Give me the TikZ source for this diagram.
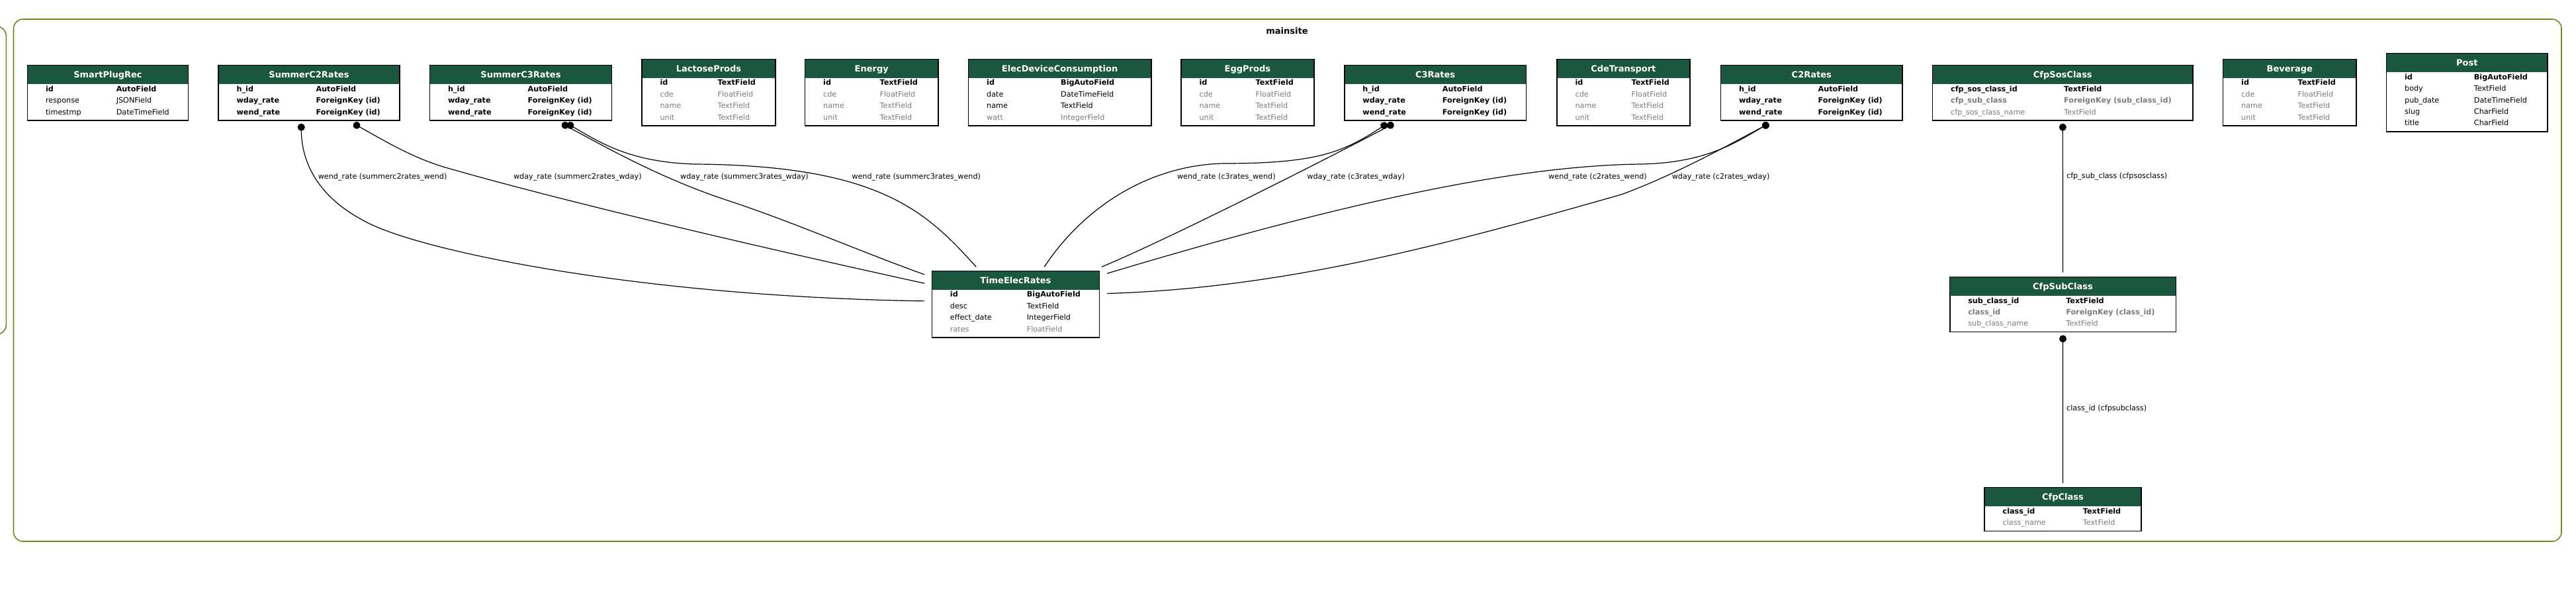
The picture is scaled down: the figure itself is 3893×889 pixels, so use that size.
\documentclass[tikz,border=0pt]{standalone}
\usepackage{fontspec}
\setmainfont{DejaVu Sans}
\usetikzlibrary{arrows.meta,calc,fit}
\definecolor{hdrgreen}{HTML}{1B563F}
\definecolor{fgray}{HTML}{7B7B7B}
\definecolor{olivedrab}{HTML}{698B22}

\begin{document}
\begin{tikzpicture}[x=0.5pt,y=0.5pt,yscale=-1,xscale=1,
  cluster/.style={draw=olivedrab, line width=0.8pt, rounded corners=7pt},
  tbl/.style={draw=black, fill=white, line width=0.8pt, inner sep=0pt},
  hdr/.style={fill=hdrgreen},
  ttl/.style={anchor=base, text=white, inner sep=0pt, font=\fontsize{6.5}{7.8}\selectfont\bfseries},
  fld/.style={anchor=north west, align=left, inner sep=0pt, font=\fontsize{5.6}{8.7}\selectfont},
  lbl/.style={anchor=west, inner sep=0pt, font=\fontsize{5.6}{6.7}\selectfont},
  fk/.style={line width=0.6pt, {Circle[length=5.5pt,width=5.5pt]}-},
]
\useasboundingbox (0,0) rectangle (3893,889);
\clip (0,0) rectangle (3893,889);

%Rounded Rect [cluster mainsite]
\draw [cluster] (20.5,29) rectangle (3871,818);
%Rounded Rect [cluster, cut off]
\draw [cluster] (-60,40) rectangle (9.3,505);
% Text Node
\node [inner sep=0pt, font=\fontsize{6.5}{7.8}\selectfont\bfseries] (mainsite) at (1945,46.7) {mainsite};

%Table SmartPlugRec
\node [tbl, fit={(41.5,98.7) (284.4,181.9)}] (smartplugrec) {};
\fill [hdr] ($(smartplugrec.north west)+(1.5,1.5)$) rectangle ($(smartplugrec.north east)+(-1.5,29.5)$);
\node [ttl] (smartplugrec-t) at ($(smartplugrec.north)+(0,19.8)$) {SmartPlugRec};
\node [fld] (smartplugrec-n) at ($(smartplugrec.north west)+(28,31.5)$) {\textbf{id}\\response\\timestmp};
\node [fld] (smartplugrec-f) at ($(smartplugrec.north west)+(134.7,31.5)$) {\textbf{AutoField}\\JSONField\\DateTimeField};

%Table SummerC2Rates
\node [tbl, fit={(330,98.7) (604,181.9)}] (summerc2rates) {};
\fill [hdr] ($(summerc2rates.north west)+(1.5,1.5)$) rectangle ($(summerc2rates.north east)+(-1.5,29.5)$);
\node [ttl] (summerc2rates-t) at ($(summerc2rates.north)+(0,19.8)$) {SummerC2Rates};
\node [fld] (summerc2rates-n) at ($(summerc2rates.north west)+(28,31.5)$) {\textbf{h\_id}\\\textbf{wday\_rate}\\\textbf{wend\_rate}};
\node [fld] (summerc2rates-f) at ($(summerc2rates.north west)+(148,31.5)$) {\textbf{AutoField}\\\textbf{ForeignKey (id)}\\\textbf{ForeignKey (id)}};

%Table SummerC3Rates
\node [tbl, fit={(649.5,98.7) (924.4,181.9)}] (summerc3rates) {};
\fill [hdr] ($(summerc3rates.north west)+(1.5,1.5)$) rectangle ($(summerc3rates.north east)+(-1.5,29.5)$);
\node [ttl] (summerc3rates-t) at ($(summerc3rates.north)+(0,19.8)$) {SummerC3Rates};
\node [fld] (summerc3rates-n) at ($(summerc3rates.north west)+(28,31.5)$) {\textbf{h\_id}\\\textbf{wday\_rate}\\\textbf{wend\_rate}};
\node [fld] (summerc3rates-f) at ($(summerc3rates.north west)+(148.5,31.5)$) {\textbf{AutoField}\\\textbf{ForeignKey (id)}\\\textbf{ForeignKey (id)}};

%Table LactoseProds
\node [tbl, fit={(970,89.3) (1172,189.9)}] (lactoseprods) {};
\fill [hdr] ($(lactoseprods.north west)+(1.5,1.5)$) rectangle ($(lactoseprods.north east)+(-1.5,29.5)$);
\node [ttl] (lactoseprods-t) at ($(lactoseprods.north)+(0,19.8)$) {LactoseProds};
\node [fld] (lactoseprods-n) at ($(lactoseprods.north west)+(28,31.5)$) {\textbf{id}\\\textcolor{fgray}{cde}\\\textcolor{fgray}{name}\\\textcolor{fgray}{unit}};
\node [fld] (lactoseprods-f) at ($(lactoseprods.north west)+(115,31.5)$) {\textbf{TextField}\\\textcolor{fgray}{FloatField}\\\textcolor{fgray}{TextField}\\\textcolor{fgray}{TextField}};

%Table Energy
\node [tbl, fit={(1216.6,89.3) (1418,189.9)}] (energy) {};
\fill [hdr] ($(energy.north west)+(1.5,1.5)$) rectangle ($(energy.north east)+(-1.5,29.5)$);
\node [ttl] (energy-t) at ($(energy.north)+(0,19.8)$) {Energy};
\node [fld] (energy-n) at ($(energy.north west)+(28,31.5)$) {\textbf{id}\\\textcolor{fgray}{cde}\\\textcolor{fgray}{name}\\\textcolor{fgray}{unit}};
\node [fld] (energy-f) at ($(energy.north west)+(113.4,31.5)$) {\textbf{TextField}\\\textcolor{fgray}{FloatField}\\\textcolor{fgray}{TextField}\\\textcolor{fgray}{TextField}};

%Table ElecDeviceConsumption
\node [tbl, fit={(1463.6,89.3) (1739.7,189.9)}] (elecdeviceconsumption) {};
\fill [hdr] ($(elecdeviceconsumption.north west)+(1.5,1.5)$) rectangle ($(elecdeviceconsumption.north east)+(-1.5,29.5)$);
\node [ttl] (elecdeviceconsumption-t) at ($(elecdeviceconsumption.north)+(0,19.8)$) {ElecDeviceConsumption};
\node [fld] (elecdeviceconsumption-n) at ($(elecdeviceconsumption.north west)+(28,31.5)$) {\textbf{id}\\date\\name\\\textcolor{fgray}{watt}};
\node [fld] (elecdeviceconsumption-f) at ($(elecdeviceconsumption.north west)+(140,31.5)$) {\textbf{BigAutoField}\\DateTimeField\\TextField\\\textcolor{fgray}{IntegerField}};

%Table EggProds
\node [tbl, fit={(1785,89.3) (1985.8,189.9)}] (eggprods) {};
\fill [hdr] ($(eggprods.north west)+(1.5,1.5)$) rectangle ($(eggprods.north east)+(-1.5,29.5)$);
\node [ttl] (eggprods-t) at ($(eggprods.north)+(0,19.8)$) {EggProds};
\node [fld] (eggprods-n) at ($(eggprods.north west)+(28,31.5)$) {\textbf{id}\\\textcolor{fgray}{cde}\\\textcolor{fgray}{name}\\\textcolor{fgray}{unit}};
\node [fld] (eggprods-f) at ($(eggprods.north west)+(113,31.5)$) {\textbf{TextField}\\\textcolor{fgray}{FloatField}\\\textcolor{fgray}{TextField}\\\textcolor{fgray}{TextField}};

%Table C3Rates
\node [tbl, fit={(2031.8,98.7) (2306.3,181.9)}] (c3rates) {};
\fill [hdr] ($(c3rates.north west)+(1.5,1.5)$) rectangle ($(c3rates.north east)+(-1.5,29.5)$);
\node [ttl] (c3rates-t) at ($(c3rates.north)+(0,19.8)$) {C3Rates};
\node [fld] (c3rates-n) at ($(c3rates.north west)+(28,31.5)$) {\textbf{h\_id}\\\textbf{wday\_rate}\\\textbf{wend\_rate}};
\node [fld] (c3rates-f) at ($(c3rates.north west)+(148.5,31.5)$) {\textbf{AutoField}\\\textbf{ForeignKey (id)}\\\textbf{ForeignKey (id)}};

%Table CdeTransport
\node [tbl, fit={(2353,89.3) (2553.7,189.9)}] (cdetransport) {};
\fill [hdr] ($(cdetransport.north west)+(1.5,1.5)$) rectangle ($(cdetransport.north east)+(-1.5,29.5)$);
\node [ttl] (cdetransport-t) at ($(cdetransport.north)+(0,19.8)$) {CdeTransport};
\node [fld] (cdetransport-n) at ($(cdetransport.north west)+(28,31.5)$) {\textbf{id}\\\textcolor{fgray}{cde}\\\textcolor{fgray}{name}\\\textcolor{fgray}{unit}};
\node [fld] (cdetransport-f) at ($(cdetransport.north west)+(113,31.5)$) {\textbf{TextField}\\\textcolor{fgray}{FloatField}\\\textcolor{fgray}{TextField}\\\textcolor{fgray}{TextField}};

%Table C2Rates
\node [tbl, fit={(2600.5,98.7) (2875,181.9)}] (c2rates) {};
\fill [hdr] ($(c2rates.north west)+(1.5,1.5)$) rectangle ($(c2rates.north east)+(-1.5,29.5)$);
\node [ttl] (c2rates-t) at ($(c2rates.north)+(0,19.8)$) {C2Rates};
\node [fld] (c2rates-n) at ($(c2rates.north west)+(28,31.5)$) {\textbf{h\_id}\\\textbf{wday\_rate}\\\textbf{wend\_rate}};
\node [fld] (c2rates-f) at ($(c2rates.north west)+(147.5,31.5)$) {\textbf{AutoField}\\\textbf{ForeignKey (id)}\\\textbf{ForeignKey (id)}};

%Table CfpSosClass
\node [tbl, fit={(2920.6,98.7) (3314,181.9)}] (cfpsosclass) {};
\fill [hdr] ($(cfpsosclass.north west)+(1.5,1.5)$) rectangle ($(cfpsosclass.north east)+(-1.5,29.5)$);
\node [ttl] (cfpsosclass-t) at ($(cfpsosclass.north)+(0,19.8)$) {CfpSosClass};
\node [fld] (cfpsosclass-n) at ($(cfpsosclass.north west)+(28,31.5)$) {\textbf{cfp\_sos\_class\_id}\\\textcolor{fgray}{\textbf{cfp\_sub\_class}}\\\textcolor{fgray}{cfp\_sos\_class\_name}};
\node [fld] (cfpsosclass-f) at ($(cfpsosclass.north west)+(199,31.5)$) {\textbf{TextField}\\\textcolor{fgray}{\textbf{ForeignKey (sub\_class\_id)}}\\\textcolor{fgray}{TextField}};

%Table Beverage
\node [tbl, fit={(3359.6,89.3) (3561,189.9)}] (beverage) {};
\fill [hdr] ($(beverage.north west)+(1.5,1.5)$) rectangle ($(beverage.north east)+(-1.5,29.5)$);
\node [ttl] (beverage-t) at ($(beverage.north)+(0,19.8)$) {Beverage};
\node [fld] (beverage-n) at ($(beverage.north west)+(28,31.5)$) {\textbf{id}\\\textcolor{fgray}{cde}\\\textcolor{fgray}{name}\\\textcolor{fgray}{unit}};
\node [fld] (beverage-f) at ($(beverage.north west)+(113.4,31.5)$) {\textbf{TextField}\\\textcolor{fgray}{FloatField}\\\textcolor{fgray}{TextField}\\\textcolor{fgray}{TextField}};

%Table Post
\node [tbl, fit={(3606.5,80.7) (3850,198.7)}] (post) {};
\fill [hdr] ($(post.north west)+(1.5,1.5)$) rectangle ($(post.north east)+(-1.5,29.5)$);
\node [ttl] (post-t) at ($(post.north)+(0,19.8)$) {Post};
\node [fld] (post-n) at ($(post.north west)+(28,31.5)$) {\textbf{id}\\body\\pub\_date\\slug\\title};
\node [fld] (post-f) at ($(post.north west)+(132.8,31.5)$) {\textbf{BigAutoField}\\TextField\\DateTimeField\\CharField\\CharField};

%Table TimeElecRates
\node [tbl, fit={(1408.3,409.3) (1661.5,509.9)}] (timeelecrates) {};
\fill [hdr] ($(timeelecrates.north west)+(1.5,1.5)$) rectangle ($(timeelecrates.north east)+(-1.5,29.5)$);
\node [ttl] (timeelecrates-t) at ($(timeelecrates.north)+(0,19.8)$) {TimeElecRates};
\node [fld] (timeelecrates-n) at ($(timeelecrates.north west)+(28,31.5)$) {\textbf{id}\\desc\\effect\_date\\\textcolor{fgray}{rates}};
\node [fld] (timeelecrates-f) at ($(timeelecrates.north west)+(144,31.5)$) {\textbf{BigAutoField}\\TextField\\IntegerField\\\textcolor{fgray}{FloatField}};

%Table CfpSubClass
\node [tbl, fit={(2946.7,418.4) (3288.3,501.6)}] (cfpsubclass) {};
\fill [hdr] ($(cfpsubclass.north west)+(1.5,1.5)$) rectangle ($(cfpsubclass.north east)+(-1.5,29.5)$);
\node [ttl] (cfpsubclass-t) at ($(cfpsubclass.north)+(0,19.8)$) {CfpSubClass};
\node [fld] (cfpsubclass-n) at ($(cfpsubclass.north west)+(28,31.5)$) {\textbf{sub\_class\_id}\\\textcolor{fgray}{\textbf{class\_id}}\\\textcolor{fgray}{sub\_class\_name}};
\node [fld] (cfpsubclass-f) at ($(cfpsubclass.north west)+(176,31.5)$) {\textbf{TextField}\\\textcolor{fgray}{\textbf{ForeignKey (class\_id)}}\\\textcolor{fgray}{TextField}};

%Table CfpClass
\node [tbl, fit={(2999,736.7) (3236,802.5)}] (cfpclass) {};
\fill [hdr] ($(cfpclass.north west)+(1.5,1.5)$) rectangle ($(cfpclass.north east)+(-1.5,29.5)$);
\node [ttl] (cfpclass-t) at ($(cfpclass.north)+(0,19.8)$) {CfpClass};
\node [fld] (cfpclass-n) at ($(cfpclass.north west)+(28,31.5)$) {\textbf{class\_id}\\\textcolor{fgray}{class\_name}};
\node [fld] (cfpclass-f) at ($(cfpclass.north west)+(149.3,31.5)$) {\textbf{TextField}\\\textcolor{fgray}{TextField}};

%Curve Lines [wend_rate summerc2rates]
\draw [fk] ($(summerc2rates.south west)+(126,4)$) .. controls (456,255) and (490,302) .. (549,333) .. controls (620,375) and (950,448) .. ($(timeelecrates.north west)+(-10.3,46.4)$);
%Curve Lines [wday_rate summerc2rates]
\draw [fk] ($(summerc2rates.south west)+(205,4)$) .. controls (580,212) and (625,240) .. (680,255) .. controls (880,312) and (1200,385) .. ($(timeelecrates.north west)+(-10.3,19.7)$);
%Curve Lines [wday_rate summerc3rates]
\draw [fk] ($(summerc3rates.south west)+(200.5,4)$) .. controls (920,225) and (1000,270) .. (1100,303) .. controls (1200,336) and (1300,380) .. ($(timeelecrates.north west)+(-10.3,6.4)$);
%Curve Lines [wend_rate summerc3rates]
\draw [fk] ($(summerc3rates.south west)+(208.5,4)$) .. controls (905,214) and (950,245) .. (1050,248) .. controls (1330,250) and (1400,320) .. ($(timeelecrates.north west)+(67.7,-5.3)$);
%Curve Lines [wend_rate c3rates]
\draw [fk] ($(c3rates.south west)+(65.2,4)$) .. controls (2030,230) and (1990,247) .. (1850,247) .. controls (1740,249) and (1640,310) .. ($(timeelecrates.north west)+(170.7,-5.3)$);
%Curve Lines [wday_rate c3rates]
\draw [fk] ($(c3rates.south west)+(75.2,4)$) .. controls (2040,222) and (1780,355) .. ($(timeelecrates.north east)+(2.8,-5.3)$);
%Curve Lines [wend_rate c2rates]
\draw [fk] ($(c2rates.south west)+(73.5,4)$) .. controls (2625,214) and (2580,246) .. (2480,248) .. controls (2300,250) and (2050,300) .. ($(timeelecrates.north east)+(10.8,4.7)$);
%Curve Lines [wday_rate c2rates]
\draw [fk] ($(c2rates.south west)+(73.5,4)$) .. controls (2620,215) and (2530,265) .. (2450,294) .. controls (2200,365) and (1950,435) .. ($(timeelecrates.north east)+(10.8,35)$);
%Straight Lines [cfp_sub_class]
\draw [fk] ($(cfpsosclass.south)+(0,4)$) -- ($(cfpsubclass.north)+(0,-6)$);
%Straight Lines [class_id]
\draw [fk] ($(cfpsubclass.south)+(0,4)$) -- ($(cfpclass.north)+(0,-6)$);

% Text Node
\node [lbl] (lbl-s2wend) at (480.4,267.3) {wend\_rate (summerc2rates\_wend)};
% Text Node
\node [lbl] (lbl-s2wday) at (775.6,267.3) {wday\_rate (summerc2rates\_wday)};
% Text Node
\node [lbl] (lbl-s3wday) at (1027.7,267.3) {wday\_rate (summerc3rates\_wday)};
% Text Node
\node [lbl] (lbl-s3wend) at (1287,267.3) {wend\_rate (summerc3rates\_wend)};
% Text Node
\node [lbl] (lbl-c3wend) at (1778.6,267.3) {wend\_rate (c3rates\_wend)};
% Text Node
\node [lbl] (lbl-c3wday) at (1975,267.3) {wday\_rate (c3rates\_wday)};
% Text Node
\node [lbl] (lbl-c2wend) at (2339.8,267.3) {wend\_rate (c2rates\_wend)};
% Text Node
\node [lbl] (lbl-c2wday) at (2526.4,267.3) {wday\_rate (c2rates\_wday)};
% Text Node
\node [lbl] (lbl-subclass) at (3122.7,266.5) {cfp\_sub\_class (cfpsosclass)};
% Text Node
\node [lbl] (lbl-classid) at (3122.7,618) {class\_id (cfpsubclass)};

\end{tikzpicture}
\end{document}
